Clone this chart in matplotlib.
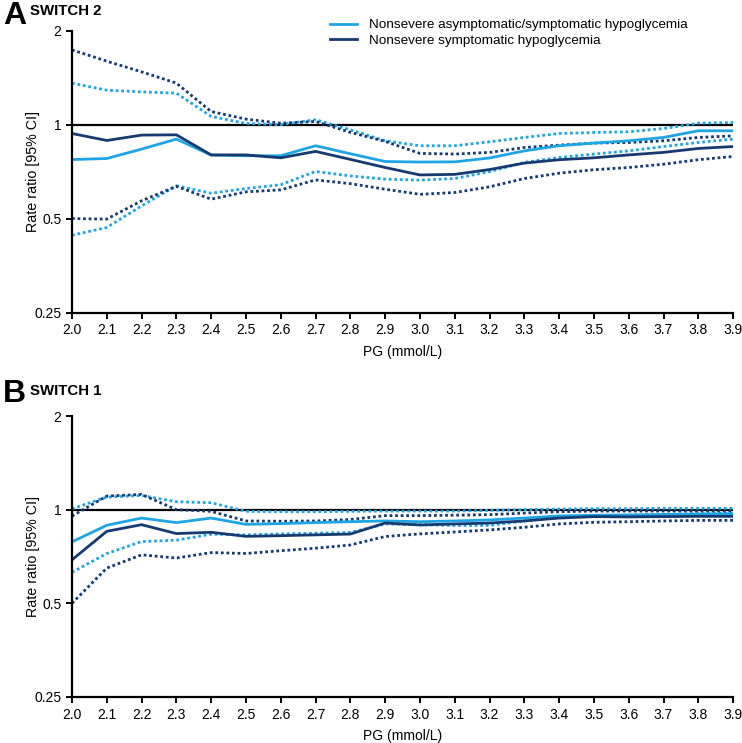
import matplotlib.pyplot as plt
from matplotlib.ticker import FixedLocator, NullLocator

plt.rcParams['font.family'] = ['Liberation Sans', 'DejaVu Sans']

pg = [2.0, 2.1, 2.2, 2.3, 2.4, 2.5, 2.6, 2.7, 2.8, 2.9,
      3.0, 3.1, 3.2, 3.3, 3.4, 3.5, 3.6, 3.7, 3.8, 3.9]
pg_labels = ['%.1f' % v for v in pg]

# SWITCH 2 (panel A)
a_all = [0.774, 0.780, 0.836, 0.900, 0.800, 0.796, 0.796, 0.857, 0.808, 0.763,
         0.760, 0.761, 0.783, 0.825, 0.857, 0.874, 0.889, 0.911, 0.957, 0.957]
a_all_hi = [1.360, 1.291, 1.275, 1.263, 1.064, 1.010, 1.002, 1.038, 0.964, 0.889,
            0.857, 0.857, 0.882, 0.911, 0.938, 0.945, 0.950, 0.973, 1.012, 1.017]
a_all_lo = [0.443, 0.469, 0.550, 0.638, 0.604, 0.625, 0.643, 0.709, 0.686, 0.670,
            0.665, 0.673, 0.708, 0.758, 0.786, 0.806, 0.825, 0.852, 0.878, 0.900]
a_sym = [0.938, 0.891, 0.927, 0.929, 0.801, 0.801, 0.784, 0.822, 0.775, 0.730,
         0.691, 0.694, 0.719, 0.754, 0.773, 0.784, 0.801, 0.816, 0.840, 0.852]
a_sym_hi = [1.738, 1.599, 1.478, 1.360, 1.103, 1.043, 1.012, 1.025, 0.946, 0.885,
            0.810, 0.806, 0.816, 0.846, 0.861, 0.874, 0.878, 0.889, 0.911, 0.922]
a_sym_lo = [0.501, 0.499, 0.571, 0.635, 0.578, 0.610, 0.619, 0.666, 0.648, 0.622,
            0.599, 0.607, 0.633, 0.673, 0.700, 0.718, 0.730, 0.748, 0.773, 0.792]

# SWITCH 1 (panel B)
b_all = [0.788, 0.891, 0.940, 0.909, 0.940, 0.897, 0.902, 0.909, 0.915, 0.920,
         0.915, 0.920, 0.927, 0.940, 0.955, 0.960, 0.962, 0.965, 0.968, 0.970]
b_all_hi = [1.007, 1.098, 1.111, 1.061, 1.053, 0.988, 0.985, 0.985, 0.988, 0.990,
            0.990, 0.990, 0.995, 1.000, 1.005, 1.008, 1.008, 1.010, 1.010, 1.010]
b_all_lo = [0.629, 0.723, 0.790, 0.798, 0.834, 0.830, 0.836, 0.840, 0.845, 0.900,
            0.895, 0.890, 0.890, 0.920, 0.945, 0.955, 0.960, 0.965, 0.970, 0.975]
b_sym = [0.690, 0.852, 0.895, 0.838, 0.846, 0.821, 0.825, 0.830, 0.835, 0.906,
         0.893, 0.900, 0.906, 0.920, 0.940, 0.950, 0.948, 0.950, 0.952, 0.952]
b_sym_hi = [0.954, 1.106, 1.120, 1.000, 0.988, 0.920, 0.918, 0.920, 0.930, 0.957,
            0.957, 0.960, 0.964, 0.975, 0.985, 0.990, 0.990, 0.990, 0.990, 0.990]
b_sym_lo = [0.500, 0.649, 0.716, 0.699, 0.728, 0.723, 0.738, 0.752, 0.770, 0.820,
            0.836, 0.848, 0.861, 0.878, 0.900, 0.911, 0.915, 0.920, 0.924, 0.924]

y_ticks = [0.25, 0.5, 1, 2]
y_labels = ['0.25', '0.5', '1', '2']
light = '#1ea5e3'
dark = '#173a70'
dots = (0, (1, 1))

fig = plt.figure(figsize=(7.42, 7.43), dpi=100)
ax_a = fig.add_axes([0.097, 0.579, 0.891, 0.3795])
ax_b = fig.add_axes([0.097, 0.062, 0.891, 0.378])


def draw_panel(ax, est1, hi1, lo1, est2, hi2, lo2):
    ax.axhline(1, color='black', lw=1.6, zorder=1)
    ax.plot(pg, hi1, color=light, lw=2, ls=dots)
    ax.plot(pg, lo1, color=light, lw=2, ls=dots)
    ax.plot(pg, hi2, color=dark, lw=2, ls=dots)
    ax.plot(pg, lo2, color=dark, lw=2, ls=dots)
    l1, = ax.plot(pg, est1, color=light, lw=2)
    l2, = ax.plot(pg, est2, color=dark, lw=2)
    ax.set_yscale('log', base=2)
    ax.set_ylim(0.25, 2)
    ax.set_xlim(2.0, 3.9)
    ax.yaxis.set_major_locator(FixedLocator(y_ticks))
    ax.yaxis.set_minor_locator(NullLocator())
    ax.set_yticklabels(y_labels)
    ax.set_xticks(pg)
    ax.set_xticklabels(pg_labels)
    for s in ['top', 'right']:
        ax.spines[s].set_visible(False)
    for s in ['left', 'bottom']:
        ax.spines[s].set_linewidth(1.6)
    ax.tick_params(direction='out', length=4.2, width=1.4, pad=3.5, labelsize=10)
    ax.set_xlabel('PG (mmol/L)', fontsize=10, labelpad=5.5)
    ax.set_ylabel('Rate ratio [95% CI]', fontsize=10.3, labelpad=-4)
    return l1, l2


l1, l2 = draw_panel(ax_a, a_all, a_all_hi, a_all_lo, a_sym, a_sym_hi, a_sym_lo)
draw_panel(ax_b, b_all, b_all_hi, b_all_lo, b_sym, b_sym_hi, b_sym_lo)

fig.legend([l1, l2],
           ['Nonsevere asymptomatic/symptomatic hypoglycemia',
            'Nonsevere symptomatic hypoglycemia'],
           loc='upper left', bbox_to_anchor=(330 / 742, 1 - 19 / 743),
           frameon=False, borderpad=0, borderaxespad=0,
           fontsize=9.7, handlelength=2.0, handletextpad=0.9, labelspacing=0.2)

fig.text(0.004, 0.998, 'A', fontsize=23, fontweight='bold', va='top')
fig.text(0.041, 0.994, 'SWITCH 2', fontsize=10.8, fontweight='bold', va='top')
fig.text(0.004, 0.490, 'B', fontsize=23, fontweight='bold', va='top')
fig.text(0.041, 0.483, 'SWITCH 1', fontsize=10.8, fontweight='bold', va='top')

plt.savefig('out.png', dpi=100)
